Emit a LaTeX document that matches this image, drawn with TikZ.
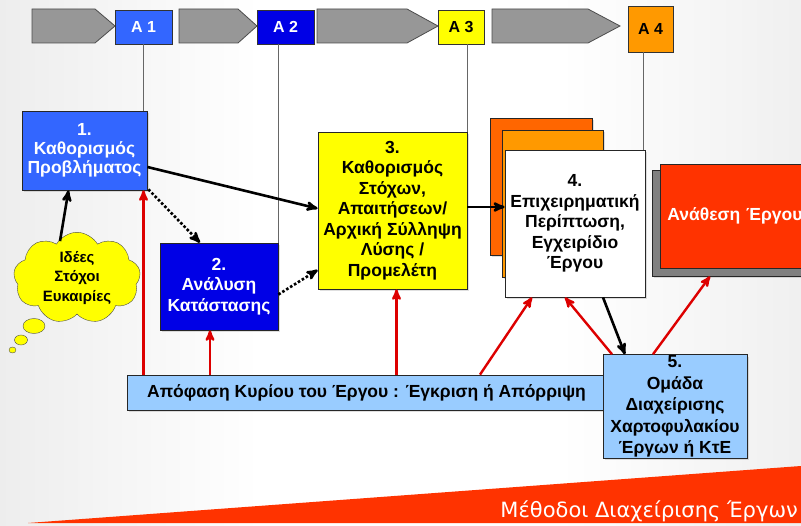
\documentclass[tikz,border=0pt]{standalone}
\usepackage{fontspec}
\setmainfont{Liberation Sans}
\newfontfamily\widefont{DejaVu Sans}
\usetikzlibrary{arrows,shapes.symbols,shadows}

\definecolor{phaseblue}{HTML}{3366FF}
\definecolor{deepblue}{HTML}{0000E6}
\definecolor{sunyellow}{HTML}{FFFF00}
\definecolor{amber}{HTML}{FF9900}
\definecolor{darkorange}{HTML}{FF6600}
\definecolor{signalred}{HTML}{FF3300}
\definecolor{skyblue}{HTML}{99CCFF}
\definecolor{arrowred}{HTML}{DD0000}
\definecolor{phasegray}{HTML}{979797}

\begin{document}
\begin{tikzpicture}[x=1pt,y=-1pt,>=stealth',
    box/.style={draw=black!85,line width=0.8pt,inner sep=1pt,align=center,
      drop shadow={shadow xshift=2pt,shadow yshift=-2pt,opacity=0.25},
      font=\fontsize{17.5}{20.5}\selectfont\bfseries},
    milestone/.style={draw=black!80,line width=0.8pt,inner sep=0pt,
      font=\fontsize{16}{18}\selectfont\bfseries},
    phase/.style={fill=phasegray,draw=black!70,line width=0.8pt},
    flow/.style={->,line width=2.6pt},
    dotflow/.style={flow,dotted},
    vote/.style={->,draw=arrowred,line width=2.4pt},
    guide/.style={draw=black!60,line width=0.7pt}]

  \useasboundingbox (0,0) rectangle (801,526);
  \clip (0,0) rectangle (801,526);

  % background
  \fill[white] (0,0) rectangle (801,526);
  \shade[left color=gray!14,right color=white] (0,0) rectangle (260,526);
  \shade[left color=white,right color=gray!12] (560,0) rectangle (801,526);

  % phases and milestones
  \draw[phase] (32,9) -- (95,9) -- (115,26) -- (95,43) -- (32,43) -- cycle;
  \draw[phase] (179,9) -- (238,9) -- (257,26) -- (238,43) -- (179,43) -- cycle;
  \draw[phase] (317,9) -- (407,9) -- (438,26) -- (407,43) -- (317,43) -- cycle;
  \draw[phase] (492,9) -- (588,9) -- (620,26) -- (588,43) -- (492,43) -- cycle;

  \node[milestone,fill=phaseblue,text=white,minimum width=57,minimum height=34] (a1) at (143.5,27) {A 1};
  \node[milestone,fill=deepblue,text=white,minimum width=57,minimum height=34] (a2) at (285.5,27) {A 2};
  \node[milestone,fill=sunyellow,minimum width=46,minimum height=34] (a3) at (461,27) {A 3};
  \node[milestone,fill=amber,minimum width=45,minimum height=46] (a4) at (650.5,29) {A 4};

  % steps
  \node[box,fill=phaseblue,text=white,minimum width=125,minimum height=79,
    font=\fontsize{17.5}{19}\selectfont\bfseries] (box1) at (84.5,150.5)
    {1.\\Καθορισμός\\Προβλήματος};
  \node[box,fill=deepblue,text=white,minimum width=118,minimum height=87] (box2) at (219,286.5)
    {2.\\Ανάλυση\\Κατάστασης};
  \node[box,fill=sunyellow,minimum width=149,minimum height=157] (box3) at (392.5,210.5)
    {3.\\Καθορισμός\\Στόχων,\\Απαιτήσεων/\\Αρχική Σύλληψη\\Λύσης /\\Προμελέτη};
  \node[box,fill=darkorange,minimum width=102,minimum height=137] (back4) at (541,186.5) {};
  \node[box,fill=amber,minimum width=101,minimum height=147] (mid4) at (552.5,203.5) {};
  \node[box,fill=white,minimum width=140,minimum height=147] (box4) at (575,223.5)
    {4.\\Επιχειρηματική\\Περίπτωση,\\Εγχειρίδιο\\Έργου};
  \node[box,fill=gray,minimum width=178,minimum height=106] (awardback) at (741,223) {};
  \node[box,fill=signalred,text=white,minimum height=104,inner xsep=7pt,text width=156,
    align=left,anchor=west] (award) at (660,216) {Ανάθεση Έργου};
  \node[box,fill=skyblue,minimum width=479,minimum height=35] (decision) at (366.5,392.5)
    {Απόφαση Κυρίου του Έργου : Έγκριση ή Απόρριψη};
  \node[box,fill=skyblue,minimum width=144,minimum height=103,
    font=\fontsize{17.5}{21.5}\selectfont\bfseries] (box5) at (675,406.5)
    {5.\\Ομάδα\\Διαχείρισης\\Χαρτοφυλακίου\\Έργων ή ΚτΕ};

  % ideas
  \node[cloud,cloud puffs=9,cloud puff arc=120,aspect=1.4,draw=black!70,fill=sunyellow,
    minimum width=127,minimum height=90,inner sep=0pt,align=center,
    font=\fontsize{15}{19.5}\selectfont\bfseries] (ideas) at (77,278)
    {Ιδέες\\Στόχοι\\Ευκαιρίες};
  \draw[draw=black!70,fill=sunyellow] (34,326) ellipse [x radius=11,y radius=7.5];
  \draw[draw=black!70,fill=sunyellow] (21,340) ellipse [x radius=6.5,y radius=5];
  \draw[draw=black!70,fill=sunyellow] (12.5,350) ellipse [x radius=3.5,y radius=3];

  % milestone guides
  \draw[guide] (a1.south) -- (a1.south |- box1.north);
  \draw[guide] (box2.north east) -- (box2.north east |- a2.south);
  \draw[guide] (box3.north east) -- (box3.north east |- a3.south);
  \draw[guide] ([shift={(-2,0)}]box4.north east) -- ([shift={(-2,0)}]box4.north east |- a4.south);

  % flow
  \draw[flow] ([shift={(-17,9)}]ideas.north) -- ([shift={(-16,0)}]box1.south);
  \draw[flow] ([shift={(0,16.5)}]box1.east) -- ([shift={(0,-2)}]box3.west);
  \draw[dotflow] ([shift={(1,-1)}]box1.south east) -- ([shift={(-19,0)}]box2.north);
  \draw[dotflow] ([shift={(0,8)}]box2.east) -- ([shift={(0,59.5)}]box3.west);
  \draw[flow] ([shift={(0,-3.5)}]box3.east) -- ([shift={(0,-16.5)}]box4.west);
  \draw[flow] ([shift={(28,0)}]box4.south) -- ([shift={(-50,0)}]box5.north);

  % decisions
  \draw[vote] (decision.north -| a1.south) -- (box1.south -| a1.south);
  \draw[vote] ([shift={(-156.5,0)}]decision.north) -- ([shift={(-9,0)}]box2.south);
  \draw[vote] ([shift={(30,0)}]decision.north) -- ([shift={(4,0)}]box3.south);
  \draw[vote] ([shift={(113.5,0)}]decision.north) -- ([shift={(-43,0)}]box4.south);
  \draw[vote] ([shift={(-63,0)}]box5.north) -- ([shift={(-10,0)}]box4.south);
  \draw[vote] ([shift={(-22,0)}]box5.north) -- ([shift={(-31,0)}]awardback.south);

  % footer
  \fill[signalred] (28,523) -- (801,466) -- (801,523) -- cycle;
  \node[text=white,anchor=base east,inner sep=0pt,font=\fontsize{21}{24}\selectfont\widefont] (footer)
    at (798,518) {Μέθοδοι Διαχείρισης Έργων};
\end{tikzpicture}
\end{document}
